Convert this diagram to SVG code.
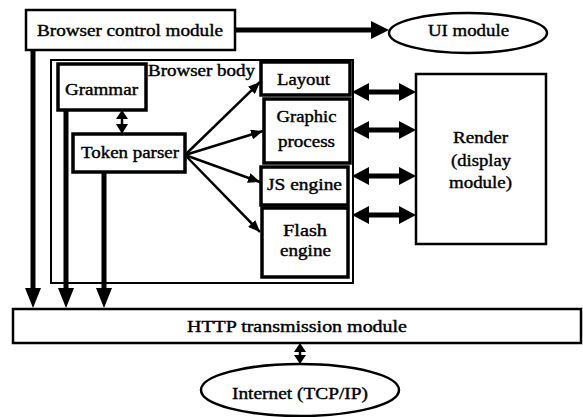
<svg xmlns="http://www.w3.org/2000/svg" width="583" height="417" viewBox="0 0 583 417">
<defs>
<style>
.box{fill:#fff;stroke:#000;stroke-width:2.5}
.thin{fill:none;stroke:#000;stroke-width:2}
.bold{fill:#fff;stroke:#000;stroke-width:3.5}
.t{font-family:"Liberation Serif","Times New Roman",serif;font-size:16.5px;fill:#000;stroke:#000;stroke-width:0.4;text-anchor:middle}
.thick{stroke:#000;stroke-width:5;fill:none}
.med{stroke:#000;stroke-width:2.5;fill:none}
.head{fill:#000;stroke:none}
</style>
<marker id="ah" viewBox="0 0 12 10" refX="12" refY="5" markerWidth="12" markerHeight="10" markerUnits="userSpaceOnUse" orient="auto">
<path d="M0,0 L12,5 L0,10 Z" fill="#000"/>
</marker>
</defs>
<rect width="583" height="417" fill="#fff"/>

<g id="browser-body">
<rect class="thin" x="51" y="60" width="302" height="223"/>
<text class="t" x="201.5" y="76" textLength="107" lengthAdjust="spacingAndGlyphs">Browser body</text>
</g>

<g id="browser-control">
<rect class="box" x="26" y="10" width="209" height="40"/>
<text class="t" x="130" y="36" textLength="186" lengthAdjust="spacingAndGlyphs">Browser control module</text>
</g>

<g id="ui-module">
<ellipse class="box" cx="468" cy="33" rx="79" ry="20"/>
<text class="t" x="468.5" y="36" textLength="81" lengthAdjust="spacingAndGlyphs">UI module</text>
</g>

<g id="grammar">
<rect class="bold" x="58" y="64" width="88" height="46"/>
<text class="t" x="101.5" y="95" textLength="73" lengthAdjust="spacingAndGlyphs">Grammar</text>
</g>

<g id="token-parser">
<rect class="bold" x="73" y="134" width="112" height="38"/>
<text class="t" x="130" y="158" textLength="98" lengthAdjust="spacingAndGlyphs">Token parser</text>
</g>

<g id="layout">
<rect class="bold" x="261" y="62" width="89" height="33"/>
<text class="t" x="303.5" y="85" textLength="53" lengthAdjust="spacingAndGlyphs">Layout</text>
</g>

<g id="graphic-process">
<rect class="bold" x="264" y="99" width="86" height="64"/>
<text class="t" x="306.5" y="122" textLength="60" lengthAdjust="spacingAndGlyphs">Graphic</text>
<text class="t" x="306.5" y="147" textLength="57" lengthAdjust="spacingAndGlyphs">process</text>
</g>

<g id="js-engine">
<rect class="bold" x="261" y="167" width="87" height="38"/>
<text class="t" x="304.5" y="190" textLength="75" lengthAdjust="spacingAndGlyphs">JS engine</text>
</g>

<g id="flash-engine">
<rect class="bold" x="262" y="208" width="86" height="69"/>
<text class="t" x="305" y="236" textLength="44" lengthAdjust="spacingAndGlyphs">Flash</text>
<text class="t" x="305.5" y="256" textLength="51" lengthAdjust="spacingAndGlyphs">engine</text>
</g>

<g id="render">
<rect class="box" x="416" y="74" width="130" height="170"/>
<text class="t" x="480.5" y="143" textLength="55" lengthAdjust="spacingAndGlyphs">Render</text>
<text class="t" x="481" y="166" textLength="60" lengthAdjust="spacingAndGlyphs">(display</text>
<text class="t" x="480.5" y="188" textLength="63" lengthAdjust="spacingAndGlyphs">module)</text>
</g>

<g id="http">
<rect class="box" x="13" y="309" width="568" height="34"/>
<text class="t" x="297" y="332" textLength="220" lengthAdjust="spacingAndGlyphs">HTTP  transmission  module</text>
</g>

<g id="internet">
<ellipse class="box" cx="300" cy="390" rx="99" ry="26"/>
<text class="t" x="300" y="399" textLength="136" lengthAdjust="spacingAndGlyphs">Internet (TCP/IP)</text>
</g>

<g id="connectors">
<line class="thick" x1="235" y1="30" x2="373" y2="30"/>
<polygon class="head" points="371,21 389,30 371,39"/>
<line class="thick" x1="33" y1="50" x2="33" y2="290"/>
<polygon class="head" points="25,288 41,288 33,308"/>
<line class="thick" x1="66" y1="110" x2="66" y2="290"/>
<polygon class="head" points="58,288 74,288 66,308"/>
<line class="thick" x1="104" y1="172" x2="104" y2="290"/>
<polygon class="head" points="96,288 112,288 104,308"/>
<line class="med" x1="122" y1="115" x2="122" y2="129"/>
<polygon class="head" points="122,110 128,119 116,119"/>
<polygon class="head" points="122,134 128,124 116,124"/>
<line class="med" x1="185" y1="155" x2="260" y2="82" marker-end="url(#ah)"/>
<line class="med" x1="185" y1="155" x2="263" y2="131" marker-end="url(#ah)"/>
<line class="med" x1="185" y1="155" x2="260" y2="182" marker-end="url(#ah)"/>
<line class="med" x1="185" y1="155" x2="260" y2="232" marker-end="url(#ah)"/>
<line class="thick" x1="366" y1="92" x2="402" y2="92"/>
<polygon class="head" points="352,92 369,83 369,101"/>
<polygon class="head" points="416,92 399,83 399,101"/>
<line class="thick" x1="366" y1="130" x2="402" y2="130"/>
<polygon class="head" points="352,130 369,121 369,139"/>
<polygon class="head" points="416,130 399,121 399,139"/>
<line class="thick" x1="366" y1="176" x2="402" y2="176"/>
<polygon class="head" points="352,176 369,167 369,185"/>
<polygon class="head" points="416,176 399,167 399,185"/>
<line class="thick" x1="366" y1="215" x2="402" y2="215"/>
<polygon class="head" points="352,215 369,206 369,224"/>
<polygon class="head" points="416,215 399,206 399,224"/>
<line class="med" x1="300" y1="348" x2="300" y2="359"/>
<polygon class="head" points="300,343 306,352 294,352"/>
<polygon class="head" points="300,364 306,355 294,355"/>
</g>
</svg>
